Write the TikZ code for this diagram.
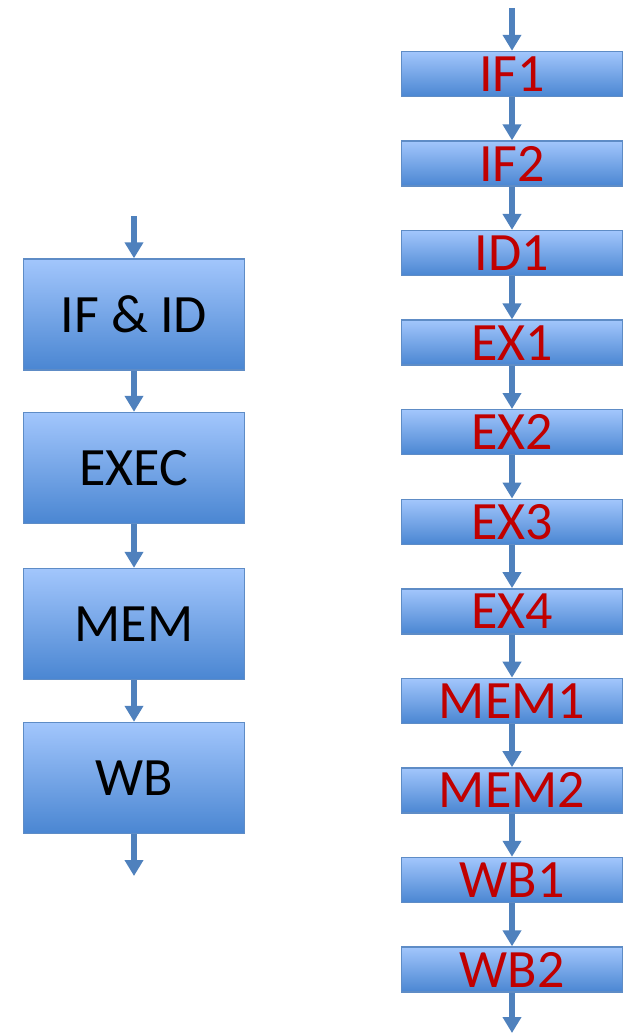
\documentclass[tikz,border=0pt]{standalone}
\usepackage{fontspec}
\setmainfont{Carlito}
\usetikzlibrary{arrows.meta}
\definecolor{boxtop}{HTML}{A2C6FC}
\definecolor{boxbot}{HTML}{4A86D2}
\definecolor{boxline}{HTML}{5E8CC6}
\definecolor{arrowc}{HTML}{4F81BD}
\definecolor{redtxt}{HTML}{C00000}
\tikzset{
  stage/.style={draw=boxline, line width=1.4pt, top color=boxtop, bottom color=boxbot,
    minimum width=221pt, inner sep=0pt, anchor=center},
  bigstage/.style={stage, minimum height=111pt, font=\fontsize{54}{54}\selectfont, text=black},
  smallstage/.style={stage, minimum height=45pt, font=\fontsize{54}{54}\selectfont, text=redtxt},
  flow/.style={draw=arrowc, line width=6.5pt, -{Triangle[width=18pt,length=16pt]}}
}
\begin{document}
\begin{tikzpicture}[x=1pt,y=-1pt]
\useasboundingbox (0,0) rectangle (624,1033);
% left column
\node[bigstage] (ifid) at (134,314.5) {IF \& ID};
\node[bigstage] (exec) at (134,468) {EXEC};
\node[bigstage] (mem) at (134,624) {MEM};
\node[bigstage] (wb) at (134,778) {WB};
\coordinate (lin) at (134,216);
\coordinate (lout) at (134,876);
\draw[flow] (lin) -- (ifid.north);
\draw[flow] (ifid.south) -- (exec.north);
\draw[flow] (exec.south) -- (mem.north);
\draw[flow] (mem.south) -- (wb.north);
\draw[flow] (wb.south) -- (lout);
% right column
\foreach \n/\t [count=\i from 0] in {if1/IF1,if2/IF2,id1/ID1,ex1/EX1,ex2/EX2,ex3/EX3,ex4/EX4,mem1/MEM1,mem2/MEM2,wb1/WB1,wb2/WB2}{
  \node[smallstage] (\n) at (512,{74+89.55*\i}) {\t};
}
\coordinate (rin) at (512,8);
\coordinate (rout) at (512,1033);
\draw[flow] (rin) -- (if1.north);
\foreach \a/\b in {if1/if2,if2/id1,id1/ex1,ex1/ex2,ex2/ex3,ex3/ex4,ex4/mem1,mem1/mem2,mem2/wb1,wb1/wb2}{
  \draw[flow] (\a.south) -- (\b.north);
}
\draw[flow] (wb2.south) -- (rout);
\end{tikzpicture}
\end{document}
